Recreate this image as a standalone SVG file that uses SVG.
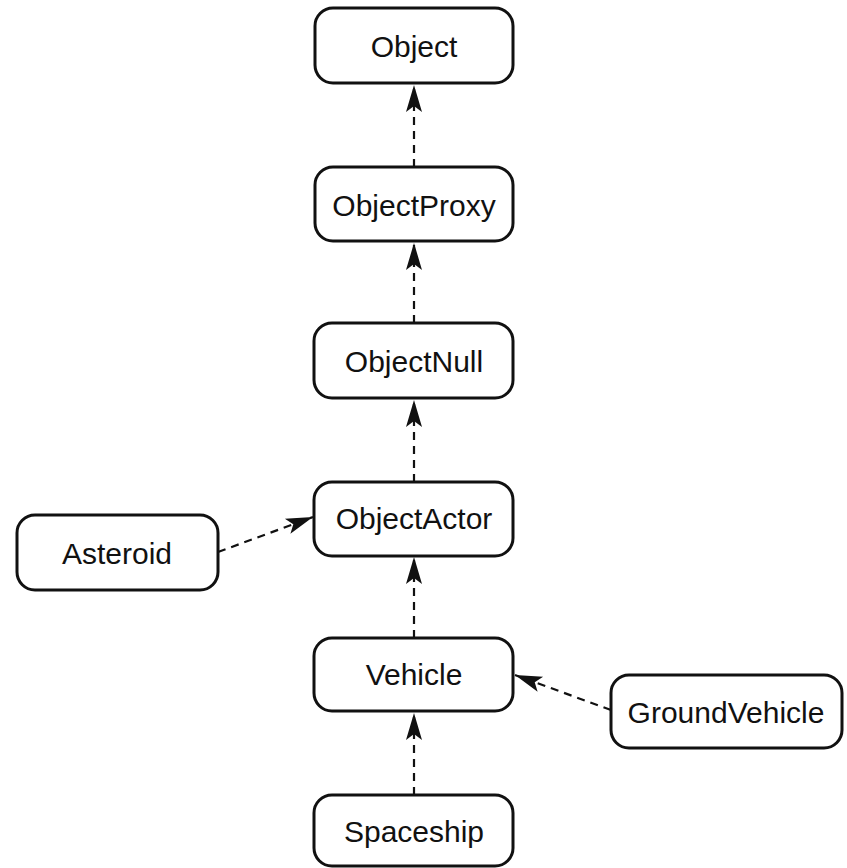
<svg xmlns="http://www.w3.org/2000/svg" width="847" height="868" viewBox="0 0 847 868">
<defs>
<style>
.node rect{fill:#fff;stroke:#111;stroke-width:3}
.node text{font-family:"Liberation Sans",Arial,sans-serif;font-size:30px;fill:#111;text-anchor:middle;dominant-baseline:central}
.edge{stroke:#111;stroke-width:2.2;stroke-dasharray:8 6;fill:none;marker-end:url(#arr)}
</style>
<marker id="arr" markerUnits="userSpaceOnUse" markerWidth="30" markerHeight="20" viewBox="0 -10 30 20" refX="27" refY="0" orient="auto">
<path d="M0,-8 L27,0 L0,8 L6,0 Z" fill="#111"/>
</marker>
</defs>
<rect width="847" height="868" fill="#fff"/>
<g id="connectors">
<line class="edge" x1="414" y1="167" x2="414" y2="85"/>
<line class="edge" x1="414" y1="323" x2="414" y2="243"/>
<line class="edge" x1="414" y1="482" x2="414" y2="400"/>
<line class="edge" x1="414" y1="638" x2="414" y2="557"/>
<line class="edge" x1="414" y1="795" x2="414" y2="713"/>
<line class="edge" x1="218" y1="552" x2="313" y2="517"/>
<line class="edge" x1="611" y1="710" x2="515" y2="675"/>
</g>
<g id="Object" class="node"><rect x="315" y="8" width="198" height="75" rx="18"/><text x="414" y="46">Object</text></g>
<g id="ObjectProxy" class="node"><rect x="315" y="167" width="198" height="74" rx="18"/><text x="414" y="205">ObjectProxy</text></g>
<g id="ObjectNull" class="node"><rect x="314" y="323" width="199" height="75" rx="18"/><text x="414" y="361">ObjectNull</text></g>
<g id="ObjectActor" class="node"><rect x="314" y="482" width="199" height="74" rx="18"/><text x="414" y="518">ObjectActor</text></g>
<g id="Asteroid" class="node"><rect x="17" y="515" width="201" height="75" rx="18"/><text x="117" y="553">Asteroid</text></g>
<g id="Vehicle" class="node"><rect x="314" y="638" width="199" height="73" rx="18"/><text x="414" y="674">Vehicle</text></g>
<g id="GroundVehicle" class="node"><rect x="611" y="675" width="231" height="73" rx="18"/><text x="726" y="712">GroundVehicle</text></g>
<g id="Spaceship" class="node"><rect x="314" y="795" width="199" height="71" rx="18"/><text x="414" y="831">Spaceship</text></g>
</svg>
